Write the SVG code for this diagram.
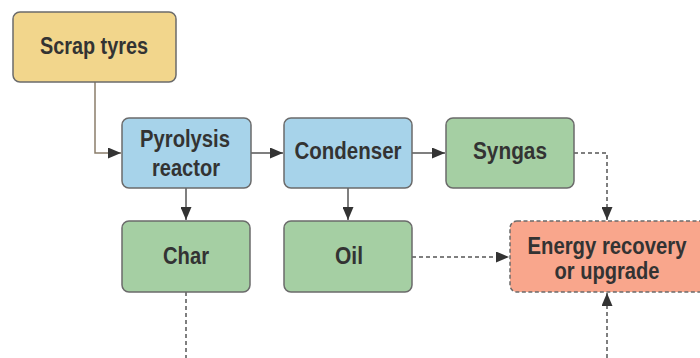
<svg xmlns="http://www.w3.org/2000/svg" width="700" height="358" viewBox="0 0 700 358">
<defs>
<style>
.box{stroke:#6b6b6b;stroke-width:1.5}
.y{fill:#f2d68c}
.b{fill:#a7d3ea}
.g{fill:#a5cfa3}
.e{fill:#f9a68c;stroke-dasharray:4 2.5}
.t{font-family:"Liberation Sans",Arial,sans-serif;font-weight:bold;font-size:23px;fill:#333;text-anchor:middle}
.s{fill:none;stroke:#555;stroke-width:1.5}
.d{fill:none;stroke:#555;stroke-width:1.5;stroke-dasharray:4 3}
</style>
<marker id="ah" markerWidth="13" markerHeight="11" refX="13" refY="5.5" orient="auto" markerUnits="userSpaceOnUse">
<path d="M0,0 L13,5.5 L0,11 Z" fill="#333"/>
</marker>
</defs>
<rect width="700" height="358" fill="#fff"/>
<g id="connectors">
<path class="s" style="stroke:#8b7d6b" d="M95,82 V153 H121" marker-end="url(#ah)"/>
<path class="s" d="M251,153 H283" marker-end="url(#ah)"/>
<path class="s" d="M412,153 H445" marker-end="url(#ah)"/>
<path class="s" d="M186,188 V220" marker-end="url(#ah)"/>
<path class="s" d="M348,188 V220" marker-end="url(#ah)"/>
<path class="d" d="M574,153 H607 V220" marker-end="url(#ah)"/>
<path class="d" d="M412,257 H509" marker-end="url(#ah)"/>
<path class="d" d="M186,292 V358"/>
<path class="d" d="M607,358 V293" marker-end="url(#ah)"/>
</g>
<g id="scrap-tyres">
<rect class="box y" x="13" y="12" width="163" height="70" rx="7"/>
<text class="t" x="94" y="54" textLength="108" lengthAdjust="spacingAndGlyphs">Scrap tyres</text>
</g>
<g id="pyrolysis-reactor">
<rect class="box b" x="122" y="118" width="129" height="70" rx="7"/>
<text class="t" x="185" y="147" textLength="90" lengthAdjust="spacingAndGlyphs">Pyrolysis</text>
<text class="t" x="186" y="176" textLength="68" lengthAdjust="spacingAndGlyphs">reactor</text>
</g>
<g id="condenser">
<rect class="box b" x="284" y="118" width="128" height="70" rx="7"/>
<text class="t" x="348" y="159" textLength="107" lengthAdjust="spacingAndGlyphs">Condenser</text>
</g>
<g id="syngas">
<rect class="box g" x="446" y="118" width="128" height="70" rx="7"/>
<text class="t" x="510" y="159" textLength="74" lengthAdjust="spacingAndGlyphs">Syngas</text>
</g>
<g id="char">
<rect class="box g" x="122" y="221" width="128" height="71" rx="7"/>
<text class="t" x="186" y="264" textLength="46" lengthAdjust="spacingAndGlyphs">Char</text>
</g>
<g id="oil">
<rect class="box g" x="284" y="221" width="128" height="71" rx="7"/>
<text class="t" x="349" y="264" textLength="28" lengthAdjust="spacingAndGlyphs">Oil</text>
</g>
<g id="energy-recovery">
<rect class="box e" x="510" y="221" width="200" height="71" rx="7"/>
<text class="t" x="607" y="254" textLength="159" lengthAdjust="spacingAndGlyphs">Energy recovery</text>
<text class="t" x="607" y="279" textLength="105" lengthAdjust="spacingAndGlyphs">or upgrade</text>
</g>
</svg>
